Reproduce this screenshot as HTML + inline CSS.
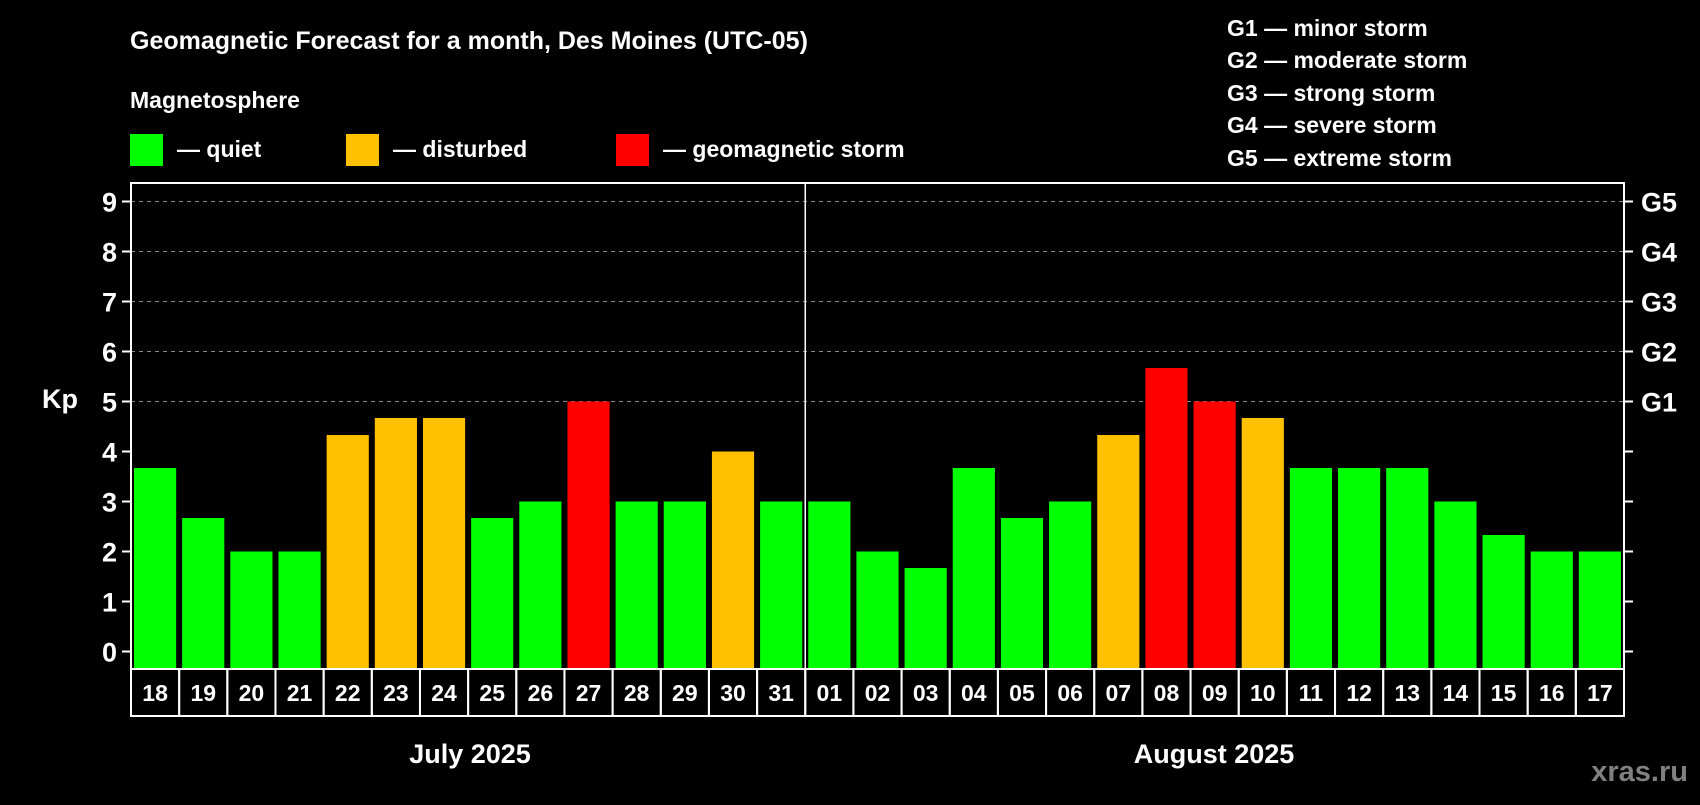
<!DOCTYPE html>
<html><head><meta charset="utf-8"><style>
body{margin:0;background:#000;width:1700px;height:800px;overflow:hidden}
svg text{font-family:"Liberation Sans",Arial,sans-serif;font-weight:bold;fill:#fff}
</style></head><body>
<svg id="c" width="1700" height="800" xmlns="http://www.w3.org/2000/svg">
<text x="130" y="49" font-size="25">Geomagnetic Forecast for a month, Des Moines (UTC-05)</text>
<text x="130" y="108" font-size="23">Magnetosphere</text>
<g>
<rect x="130" y="134" width="33" height="32" fill="#00ff00"/>
<text x="177" y="157" font-size="23">— quiet</text>
<rect x="346" y="134" width="33" height="32" fill="#ffc000"/>
<text x="393" y="157" font-size="23">— disturbed</text>
<rect x="616" y="134" width="33" height="32" fill="#ff0000"/>
<text x="663" y="157" font-size="23">— geomagnetic storm</text>
</g>
<g font-size="23">
<text x="1227" y="36">G1 — minor storm</text>
<text x="1227" y="68">G2 — moderate storm</text>
<text x="1227" y="101">G3 — strong storm</text>
<text x="1227" y="133">G4 — severe storm</text>
<text x="1227" y="166">G5 — extreme storm</text>
</g>
<text x="42" y="408" font-size="27">Kp</text>
<text x="470" y="763" font-size="27" text-anchor="middle">July 2025</text>
<text x="1214" y="763" font-size="27" text-anchor="middle">August 2025</text>
<text x="1688" y="781" font-size="29" text-anchor="end" style="fill:#808080">xras.ru</text>
<g id="plot"></g>
</svg>
<script>
const days=["18","19","20","21","22","23","24","25","26","27","28","29","30","31","01","02","03","04","05","06","07","08","09","10","11","12","13","14","15","16","17"];
const kp=[3.67,2.67,2,2,4.33,4.67,4.67,2.67,3,5,3,3,4,3,3,2,1.67,3.67,2.67,3,4.33,5.67,5,4.67,3.67,3.67,3.67,3,2.33,2,2];
const yTicks=[0,1,2,3,4,5,6,7,8,9];
const gLabels=["G1","G2","G3","G4","G5"];
const L=131,R=1624,T=183,B=669,y0=651.5,unit=50;
const cw=(R-L)/days.length;
const y=v=>y0-v*unit;
const xs=i=>L+i*cw;
const ns="http://www.w3.org/2000/svg";
const g=document.getElementById('plot');
function mk(t,a){const e=document.createElementNS(ns,t);for(const k in a)e.setAttribute(k,a[k]);g.appendChild(e);return e;}
yTicks.forEach(v=>{
 if(v>=5){const l=mk('line',{x1:L,x2:R,y1:y(v),y2:y(v),stroke:'#888','stroke-dasharray':'4,4','stroke-width':1});
 
 }
 const t1=mk('line',{x1:L-9,x2:L,y1:y(v),y2:y(v),stroke:'#fff','stroke-width':2});
 
 
 const t2=mk('line',{x1:R,x2:R+9,y1:y(v),y2:y(v),stroke:'#fff','stroke-width':2});
 
 
 const tx=mk('text',{x:L-14,y:y(v)+10,'font-size':27,'text-anchor':'end'});tx.textContent=v;
 
 
});
gLabels.forEach((s,i)=>{const tx=mk('text',{x:R+17,y:y(5+i)+10,'font-size':27});tx.textContent=s;
 
 });
kp.forEach((v,i)=>{
 const c=v>=5?'#ff0000':v>=4?'#ffc000':'#00ff00';
 const r=mk('rect',{x:xs(i)+3,y:y(v),width:cw-6,height:B-y(v),fill:c});
 
 
 const cell=mk('rect',{x:xs(i),y:B,width:cw,height:47,fill:'none',stroke:'#fff','stroke-width':2});
 
 
 const tx=mk('text',{x:xs(i)+cw/2,y:B+32,'font-size':23,'text-anchor':'middle'});tx.textContent=days[i];
 
 
});
const fr=mk('rect',{x:L,y:T,width:R-L,height:B-T,fill:'none',stroke:'#fff','stroke-width':2});


const dv=mk('line',{x1:xs(14),x2:xs(14),y1:T,y2:B,stroke:'#fff','stroke-width':1.5});


</script>
</body></html>
